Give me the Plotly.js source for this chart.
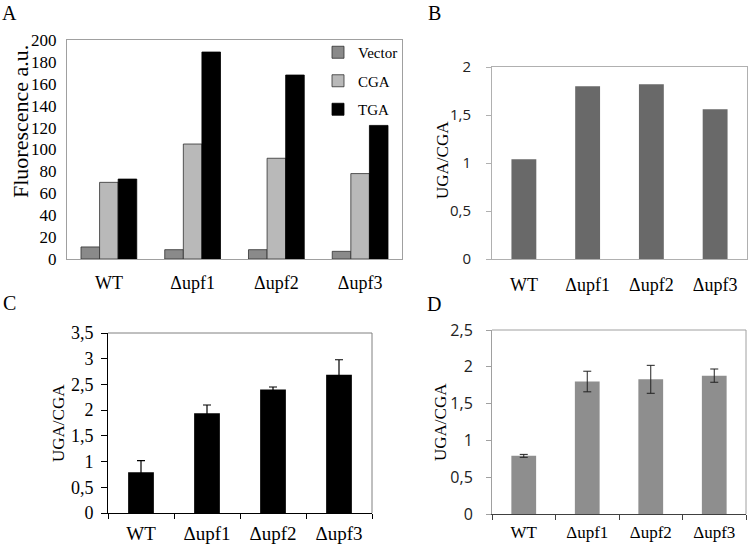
<!DOCTYPE html>
<html>
<head>
<meta charset="utf-8">
<script src="https://cdn.plot.ly/plotly-3.0.1.min.js"></script>
<style>
  html, body { margin: 0; padding: 0; background: #fff; }
  #fig { width: 748px; height: 545px; }
</style>
</head>
<body>
<div id="fig"></div>
<script>
// strains on every x axis
var strains = ['WT', '\u0394upf1', '\u0394upf2', '\u0394upf3'];

// panel A: fluorescence (a.u.)
var vectorA = [11, 8.5, 8.5, 7];
var cgaA = [70, 105, 92, 78];
var tgaA = [73, 189, 168, 122];

// panel B: UGA/CGA ratio
var ratioB = [1.04, 1.80, 1.82, 1.56];

// panel C: UGA/CGA ratio with error
var ratioC = [0.79, 1.94, 2.40, 2.69];
var errC = [0.23, 0.16, 0.05, 0.29];

// panel D: UGA/CGA ratio with error
var ratioD = [0.79, 1.80, 1.83, 1.88];
var errD = [0.02, 0.14, 0.19, 0.09];

var W = 748, H = 545;
function px(x) { return x / W; }
function py(y) { return 1 - y / H; }

var serif = 'Liberation Serif, Times New Roman, serif';
var sans = 'Open Sans, Liberation Sans, sans-serif';

var trace1 = {
  x: strains, y: vectorA, name: 'Vector', type: 'bar',
  xaxis: 'x', yaxis: 'y', legendgroup: 'v',
  width: 0.222, offset: -0.333,
  marker: {color: '#8a8a8a', line: {color: '#303030', width: 0.8}}
};
var trace2 = {
  x: strains, y: cgaA, name: 'CGA', type: 'bar',
  xaxis: 'x', yaxis: 'y', legendgroup: 'c',
  width: 0.222, offset: -0.111,
  marker: {color: '#b9b9b9', line: {color: '#303030', width: 0.8}}
};
var trace3 = {
  x: strains, y: tgaA, name: 'TGA', type: 'bar',
  xaxis: 'x', yaxis: 'y', legendgroup: 't',
  width: 0.222, offset: 0.111,
  marker: {color: '#000000', line: {color: '#000000', width: 0.8}}
};
var trace4 = {
  x: strains, y: ratioB, type: 'bar', showlegend: false,
  xaxis: 'x2', yaxis: 'y2', width: 0.39,
  marker: {color: '#696969'}
};
var trace5 = {
  x: strains, y: ratioC, type: 'bar', showlegend: false,
  xaxis: 'x3', yaxis: 'y3', width: 0.39,
  marker: {color: '#000000'},
  error_y: {type: 'data', array: errC, color: '#000', thickness: 1.2, width: 4}
};
var trace6 = {
  x: strains, y: ratioD, type: 'bar', showlegend: false,
  xaxis: 'x4', yaxis: 'y4', width: 0.39,
  marker: {color: '#8e8e8e'},
  error_y: {type: 'data', array: errD, color: '#222', thickness: 1, width: 4}
};

function xax(d, extra) {
  var a = {
    domain: d, type: 'category', showgrid: false, zeroline: false,
    showline: true, linewidth: 1, automargin: false, fixedrange: true,
    tickfont: {family: serif, size: 18, color: '#000'}
  };
  for (var k in extra) a[k] = extra[k];
  return a;
}
function yax(d, extra) {
  var a = {
    domain: d, showgrid: false, zeroline: false,
    showline: true, linewidth: 1, automargin: false, fixedrange: true
  };
  for (var k in extra) a[k] = extra[k];
  return a;
}

function frameLines(xr, yr, color) {
  return [
    {type: 'line', xref: xr + ' domain', yref: yr + ' domain', x0: 0, x1: 1, y0: 1, y1: 1,
     line: {color: color, width: 1}},
    {type: 'line', xref: xr + ' domain', yref: yr + ' domain', x0: 1, x1: 1, y0: 0, y1: 1,
     line: {color: color, width: 1}}
  ];
}

function label(text, x, y, size, angle) {
  return {text: text, x: px(x), y: py(y), xref: 'paper', yref: 'paper',
          xanchor: 'center', yanchor: 'middle',
          showarrow: false, textangle: angle || 0,
          font: {family: serif, size: size, color: '#000'}};
}

var layout = {
  width: W, height: H,
  margin: {l: 0, r: 0, t: 0, b: 0},
  paper_bgcolor: '#fff', plot_bgcolor: '#fff',
  separators: ',.',
  barmode: 'group',
  showlegend: true,
  legend: {
    x: px(318), y: py(36), xanchor: 'left', yanchor: 'top',
    traceorder: 'grouped', tracegroupgap: 6,
    bgcolor: 'rgba(0,0,0,0)',
    font: {family: serif, size: 15, color: '#000'}
  },
  xaxis: xax([px(67), px(402)], {anchor: 'y', linecolor: '#a0a0a0', mirror: true,
    ticks: '', ticklabelstandoff: 7}),
  yaxis: yax([py(259), py(40)], {anchor: 'x', range: [0, 200], dtick: 20,
    linecolor: '#a0a0a0', mirror: true, ticks: '', ticklabelstandoff: 6,
    tickfont: {family: serif, size: 17, color: '#000'}}),
  xaxis2: xax([px(492), px(747)], {anchor: 'y2', linecolor: '#b0b0b0', mirror: true,
    ticks: '', ticklabelstandoff: 9}),
  yaxis2: yax([py(259), py(67)], {anchor: 'x2', range: [0, 2], dtick: 0.5,
    linecolor: '#b0b0b0', mirror: true, ticks: 'outside', ticklen: 5, tickcolor: '#b0b0b0',
    ticklabelstandoff: 12,
    tickfont: {family: sans, size: 15, color: '#222'}}),
  xaxis3: xax([px(108), px(372)], {anchor: 'y3', linecolor: '#000',
    ticks: 'outside', tickson: 'boundaries', ticklen: 5, tickcolor: '#000',
    ticklabelstandoff: 3, tickfont: {family: serif, size: 19, color: '#000'}}),
  yaxis3: yax([py(513), py(333)], {anchor: 'x3', range: [0, 3.5], dtick: 0.5,
    linecolor: '#000', ticks: 'outside', ticklen: 6, tickcolor: '#000',
    ticklabelstandoff: 4,
    tickfont: {family: serif, size: 18, color: '#000'}}),
  xaxis4: xax([px(492), px(746)], {anchor: 'y4', linecolor: '#404040',
    ticks: 'outside', tickson: 'boundaries', ticklen: 5, tickcolor: '#404040',
    ticklabelstandoff: 3, tickfont: {family: serif, size: 17, color: '#000'}}),
  yaxis4: yax([py(514), py(330)], {anchor: 'x4', range: [0, 2.5], dtick: 0.5,
    linecolor: '#a0a0a0', ticks: 'outside', ticklen: 5, tickcolor: '#a0a0a0',
    ticklabelstandoff: 10,
    tickfont: {family: sans, size: 16, color: '#222'}}),
  shapes: [].concat(frameLines('x3', 'y3', '#808080'), frameLines('x4', 'y4', '#a0a0a0')),
  annotations: [
    label('A', 9, 13, 20),
    label('B', 434, 13, 20),
    label('C', 9, 303, 20),
    label('D', 434, 304, 20),
    label('Fluorescence a.u.', 20, 122, 22, -90),
    label('UGA/CGA', 442, 160, 17, -90),
    label('UGA/CGA', 58, 423, 17, -90),
    label('UGA/CGA', 440, 422, 17, -90)
  ]
};

var data = [trace1, trace2, trace3, trace4, trace5, trace6];

Plotly.newPlot('fig', data, layout, {staticPlot: true});
</script>
</body>
</html>
